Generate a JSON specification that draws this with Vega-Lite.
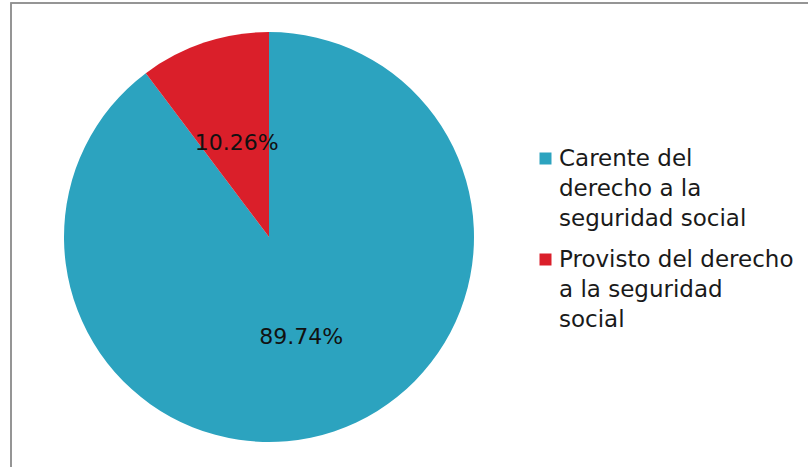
{
  "$schema": "https://vega.github.io/schema/vega-lite/v6.json",
  "autosize": "none",
  "width": 800,
  "height": 468,
  "padding": {"left": 11, "top": 3, "right": 0, "bottom": 0},
  "background": "white",
  "config": {
    "view": {"stroke": "#8f8f8f", "strokeWidth": 1.5},
    "style": {"guide-label": {"lineHeight": 30}}
  },
  "data": {
    "values": [
      {"categoria": "Carente del derecho a la seguridad social", "valor": 0.8974},
      {"categoria": "Provisto del derecho a la seguridad social", "valor": 0.1026}
    ]
  },
  "layer": [
    {
      "data": {"values": [{"marco": "borde"}]},
      "mark": {"type": "rect", "fill": null, "stroke": "#8f8f8f", "strokeWidth": 1.5},
      "encoding": {
        "x": {"value": 0},
        "x2": {"value": "width"},
        "y": {"value": 0},
        "y2": {"value": "height"}
      }
    },
    {
      "mark": {"type": "arc", "outerRadius": 205, "x": 258},
      "encoding": {
        "theta": {"field": "valor", "type": "quantitative", "stack": true},
        "order": {"field": "categoria", "sort": "ascending"},
        "color": {
          "field": "categoria",
          "type": "nominal",
          "scale": {"range": ["#2ca3bf", "#da1f2a"]},
          "legend": {
            "orient": "none",
            "legendX": 523,
            "legendY": 144,
            "title": null,
            "labelFont": "DejaVu Sans",
            "labelFontSize": 23,
            "labelColor": "#1a1a1a",
            "symbolType": "square",
            "symbolSize": 144,
            "symbolStrokeWidth": 0,
            "rowPadding": 17,
            "labelOffset": 2,
            "labelLimit": 400,
            "labelExpr": "datum.label == 'Carente del derecho a la seguridad social' ? ['Carente del', 'derecho a la', 'seguridad social'] : ['Provisto del derecho', 'a la seguridad', 'social']"
          }
        }
      }
    },
    {
      "mark": {"type": "text", "radius": 102, "x": 258, "dy": 3, "font": "DejaVu Sans", "fontSize": 22, "color": "#111111"},
      "encoding": {
        "theta": {"field": "valor", "type": "quantitative", "stack": true},
        "order": {"field": "categoria", "sort": "ascending"},
        "detail": {"field": "categoria", "type": "nominal"},
        "text": {"field": "valor", "type": "quantitative", "format": ".2%"}
      }
    }
  ]
}
